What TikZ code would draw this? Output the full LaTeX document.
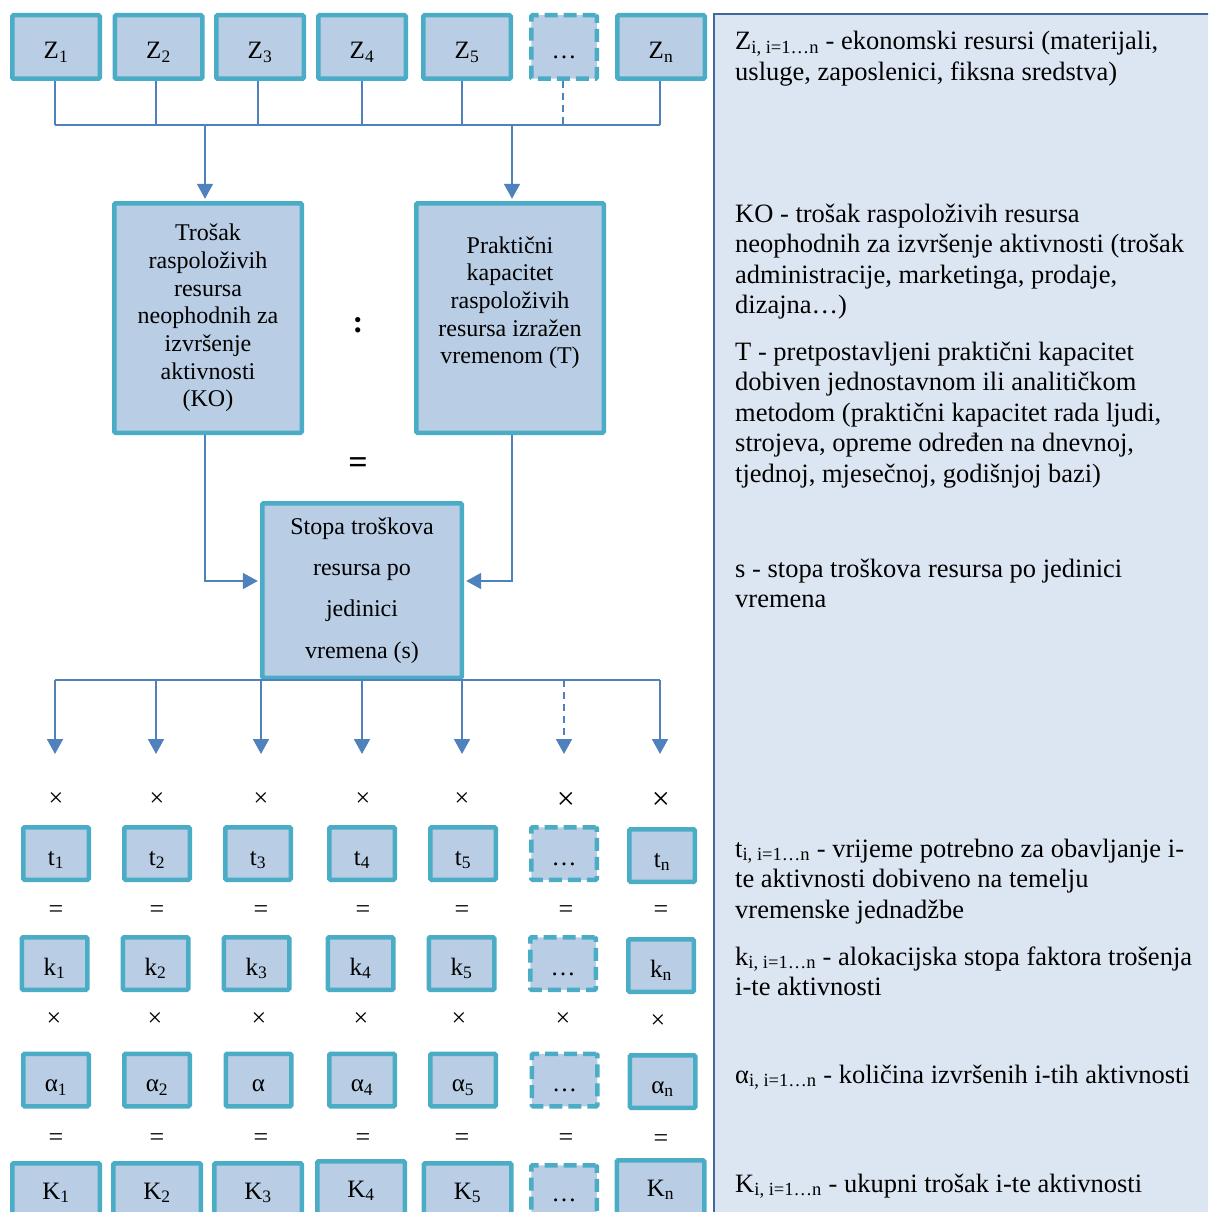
\documentclass[tikz,border=0pt]{standalone}
\usepackage{fontspec}
\setmainfont{Liberation Serif}
\usetikzlibrary{arrows.meta}
\definecolor{boxfill}{HTML}{B9CDE5}
\definecolor{boxline}{HTML}{4BACC6}
\definecolor{connc}{HTML}{4F81BD}
\definecolor{panelfill}{HTML}{DCE6F2}
\definecolor{panelline}{HTML}{41689E}
\begin{document}
\begin{tikzpicture}[x=1pt,y=-1pt,
  box/.style={draw=boxline, fill=boxfill, line width=4.5pt, inner sep=0pt,
    rounded corners=1.2pt, align=center, font=\fontsize{24}{27.7}\selectfont},
  lbl/.style={font=\fontsize{25}{27.7}\selectfont, text height=27pt, text depth=4pt},
  bigbox/.style={box, lbl, minimum width=87.5pt, minimum height=63.5pt},
  smallbox/.style={box, lbl, minimum width=65.5pt, minimum height=52.5pt},
  lowbox/.style={text height=12pt, text depth=4pt},
  dotbox/.style={dash pattern=on 13pt off 6pt},
  conn/.style={draw=connc, line width=1.8pt},
  arr/.style={conn, -{Triangle[width=16pt,length=15pt]}, shorten >=2.2pt},
  dashedconn/.style={dash pattern=on 7pt off 5pt},
  symb/.style={inner sep=0pt, font=\fontsize{26}{26}\selectfont},
  bigsymb/.style={inner sep=0pt, font=\fontsize{32}{32}\selectfont},
  ptxt/.style={anchor=base west, inner sep=0pt, font=\fontsize{26.5}{30.5}\selectfont},
  panel/.style={draw=panelline, fill=panelfill, line width=2pt}
]
\useasboundingbox (0,0) rectangle (1208,1212);
\begin{scope}
\clip (0,0) rectangle (1208,1212);

% right panel
\draw[panel] (714,14) rectangle (1240,1240);
\node[ptxt] (p1) at (735,50) {Z\textsubscript{i, i=1…n} - ekonomski resursi (materijali,};
\node[ptxt] (p2) at (735,80.5) {usluge, zaposlenici, fiksna sredstva)};
\node[ptxt] (p3) at (735,222) {KO - trošak raspoloživih resursa};
\node[ptxt] (p4) at (735,252.5) {neophodnih za izvršenje aktivnosti (trošak};
\node[ptxt] (p5) at (735,283) {administracije, marketinga, prodaje,};
\node[ptxt] (p6) at (735,313.5) {dizajna…)};
\node[ptxt] (p7) at (735,360) {T - pretpostavljeni praktični kapacitet};
\node[ptxt] (p8) at (735,390.5) {dobiven jednostavnom ili analitičkom};
\node[ptxt] (p9) at (735,421) {metodom (praktični kapacitet rada ljudi,};
\node[ptxt] (p10) at (735,451.5) {strojeva, opreme određen na dnevnoj,};
\node[ptxt] (p11) at (735,482) {tjednoj, mjesečnoj, godišnjoj bazi)};
\node[ptxt] (p12) at (735,577) {s - stopa troškova resursa po jedinici};
\node[ptxt] (p13) at (735,607.5) {vremena};
\node[ptxt] (p14) at (735,857) {t\textsubscript{i, i=1…n} - vrijeme potrebno za obavljanje i-};
\node[ptxt] (p15) at (735,887.5) {te aktivnosti dobiveno na temelju};
\node[ptxt] (p16) at (735,918) {vremenske jednadžbe};
\node[ptxt] (p17) at (735,965) {k\textsubscript{i, i=1…n} - alokacijska stopa faktora trošenja};
\node[ptxt] (p18) at (735,995.5) {i-te aktivnosti};
\node[ptxt] (p19) at (735,1083) {α\textsubscript{i, i=1…n} - količina izvršenih i-tih aktivnosti};
\node[ptxt] (p20) at (735,1192) {K\textsubscript{i, i=1…n} - ukupni trošak i-te aktivnosti};

% Z row
\node[bigbox] (z1) at (56,47) {Z\textsubscript{1}};
\node[bigbox] (z2) at (158.5,47) {Z\textsubscript{2}};
\node[bigbox] (z3) at (260,47) {Z\textsubscript{3}};
\node[bigbox] (z4) at (362,47) {Z\textsubscript{4}};
\node[bigbox] (z5) at (467,47) {Z\textsubscript{5}};
\node[bigbox, dotbox, minimum width=65.5pt] (zd) at (564,47) {…};
\node[bigbox] (zn) at (661,47) {Z\textsubscript{n}};

\coordinate (busL) at (55,125);
\coordinate (busR) at (660,125);
\draw[conn] ([xshift=-1pt]z1.south) -- ([xshift=-1pt]z1.south |- busL);
\draw[conn] ([xshift=-2.5pt]z2.south) -- ([xshift=-2.5pt]z2.south |- busL);
\draw[conn] ([xshift=-2pt]z3.south) -- ([xshift=-2pt]z3.south |- busL);
\draw[conn] (z4.south) -- (z4.south |- busL);
\draw[conn] ([xshift=-5pt]z5.south) -- ([xshift=-5pt]z5.south |- busL);
\draw[conn, dashedconn] ([xshift=-1pt]zd.south) -- ([xshift=-1pt]zd.south |- busL);
\draw[conn] ([xshift=-1pt]zn.south) -- ([xshift=-1pt]zn.south |- busL);
\draw[conn] (busL) -- (busR);

% middle boxes
\node[box, minimum width=187.5pt, minimum height=229.5pt] (ko) at (208,318)
  {Trošak\\raspoloživih\\resursa\\neophodnih za\\izvršenje\\aktivnosti\\(KO)};
\node[box, minimum width=187.5pt, minimum height=229.5pt] (tt) at (510,318)
  {Praktični\\kapacitet\\raspoloživih\\resursa izražen\\vremenom (T)\\[8pt]};
\node[inner sep=0pt, font=\fontsize{32}{32}\selectfont\bfseries] (colon) at (358,325) {:};
\node[inner sep=0pt, font=\fontsize{34}{34}\selectfont\bfseries] (eqs) at (358,466) {=};

\draw[arr] ([xshift=-3pt]ko.north |- busL) -- ([xshift=-3pt]ko.north);
\draw[arr] ([xshift=2pt]tt.north |- busL) -- ([xshift=2pt]tt.north);

\node[box, minimum width=199.5pt, minimum height=174.5pt,
  font=\fontsize{24}{41.3}\selectfont] (s) at (362,590.5)
  {Stopa troškova\\resursa po\\jedinici\\vremena (s)};

\draw[arr] ([xshift=-3pt]ko.south) |- ([yshift=9.5pt]s.west);
\draw[arr] ([xshift=2pt]tt.south) |- ([yshift=9.5pt]s.east);

% lower bus
\coordinate (bbL) at (55,680);
\coordinate (bbR) at (660,680);
\draw[conn] (bbL) -- (bbR);
\coordinate (a1) at (55,754);
\coordinate (a2) at (156,754);
\coordinate (a3) at (261,754);
\coordinate (a4) at (362,754);
\coordinate (a5) at (462,754);
\coordinate (a6) at (564,754);
\coordinate (a7) at (660,754);
\foreach \a in {a1,a2,a3,a4,a5,a7}
  \draw[arr, shorten >=0pt] (\a |- bbL) -- (\a);
\draw[arr, shorten >=0pt, dashedconn] (a6 |- bbL) -- (a6);

% x row 1
\node[symb] (m1) at (56,800) {×};
\node[symb] (m2) at (157,800) {×};
\node[symb] (m3) at (261,800) {×};
\node[symb] (m4) at (363,800) {×};
\node[symb] (m5) at (462,800) {×};
\node[bigsymb] (m6) at (566,801) {×};
\node[bigsymb] (m7) at (661,801) {×};

% t row
\node[smallbox] (t1) at (56,853.5) {t\textsubscript{1}};
\node[smallbox] (t2) at (157,853.5) {t\textsubscript{2}};
\node[smallbox] (t3) at (258,853.5) {t\textsubscript{3}};
\node[smallbox] (t4) at (362,853.5) {t\textsubscript{4}};
\node[smallbox] (t5) at (463,853.5) {t\textsubscript{5}};
\node[smallbox, dotbox] (td) at (564,853.5) {…};
\node[smallbox] (tn) at (662,855.5) {t\textsubscript{n}};

% = row 1
\node[symb] (e1) at (56,912) {=};
\node[symb] (e2) at (157,912) {=};
\node[symb] (e3) at (261,912) {=};
\node[symb] (e4) at (363,912) {=};
\node[symb] (e5) at (462,912) {=};
\node[symb] (e6) at (566,912) {=};
\node[symb] (e7) at (661,912) {=};

% k row
\node[smallbox] (k1) at (54.5,963.5) {k\textsubscript{1}};
\node[smallbox] (k2) at (155.5,963.5) {k\textsubscript{2}};
\node[smallbox] (k3) at (256.5,963.5) {k\textsubscript{3}};
\node[smallbox] (k4) at (360.5,963.5) {k\textsubscript{4}};
\node[smallbox] (k5) at (461.5,963.5) {k\textsubscript{5}};
\node[smallbox, dotbox] (kd) at (563,963.5) {…};
\node[smallbox] (kn) at (661,965.5) {k\textsubscript{n}};

% x row 2
\node[symb] (n1) at (54,1020) {×};
\node[symb] (n2) at (155,1020) {×};
\node[symb] (n3) at (259,1020) {×};
\node[symb] (n4) at (361,1020) {×};
\node[symb] (n5) at (459,1020) {×};
\node[symb] (n6) at (563,1020) {×};
\node[symb] (n7) at (658,1022) {×};

% alpha row
\node[smallbox] (al1) at (56,1080) {α\textsubscript{1}};
\node[smallbox] (al2) at (157,1080) {α\textsubscript{2}};
\node[smallbox] (al3) at (258.5,1080) {α};
\node[smallbox] (al4) at (362,1080) {α\textsubscript{4}};
\node[smallbox] (al5) at (463,1080) {α\textsubscript{5}};
\node[smallbox, dotbox] (ald) at (564.5,1080) {…};
\node[smallbox] (aln) at (662.5,1081.5) {α\textsubscript{n}};

% = row 2
\node[symb] (f1) at (56,1140) {=};
\node[symb] (f2) at (157,1140) {=};
\node[symb] (f3) at (261,1140) {=};
\node[symb] (f4) at (363,1140) {=};
\node[symb] (f5) at (462,1140) {=};
\node[symb] (f6) at (566,1140) {=};
\node[symb] (f7) at (661,1141) {=};

% K row
\node[bigbox, lowbox] (K1) at (56,1195) {K\textsubscript{1}};
\node[bigbox, lowbox] (K2) at (157,1195) {K\textsubscript{2}};
\node[bigbox, lowbox] (K3) at (258,1195) {K\textsubscript{3}};
\node[bigbox, lowbox] (K4) at (361,1193) {K\textsubscript{4}};
\node[bigbox, lowbox] (K5) at (467.5,1195) {K\textsubscript{5}};
\node[bigbox, lowbox, dotbox, minimum width=65.5pt] (Kd) at (564,1197) {…};
\node[bigbox, lowbox] (Kn) at (660.5,1192) {K\textsubscript{n}};
\end{scope}
\end{tikzpicture}
\end{document}
